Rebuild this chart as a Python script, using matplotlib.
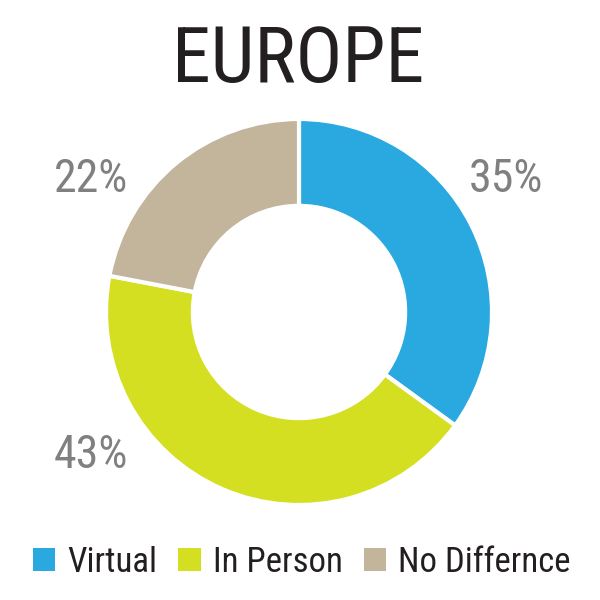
import matplotlib.pyplot as plt
from matplotlib.patches import Patch

categories = ["Virtual", "In Person", "No Differnce"]
values = [35, 43, 22]
colors = ["#29a9e0", "#d5df22", "#c2b59b"]
title = "EUROPE"

font = ["Roboto Condensed", "DejaVu Sans Condensed", "Roboto", "DejaVu Sans"]
plt.rcParams["font.family"] = font
plt.rcParams["font.stretch"] = "condensed"

fig = plt.figure(figsize=(6, 6), dpi=100)

# pie centre ~ (299, 312) px, outer radius ~193 px
cx, cy, r = 299 / 600, 1 - 312 / 600, 193 / 600
lim = 1.6
ax = fig.add_axes([cx - r * lim, cy - r * lim, 2 * r * lim, 2 * r * lim])
wedges, _ = ax.pie(values, colors=colors, startangle=90, counterclock=False,
                   radius=1, wedgeprops=dict(width=0.45, edgecolor="white", linewidth=3))
ax.set_xlim(-lim, lim)
ax.set_ylim(-lim, lim)
ax.set_aspect("equal")
ax.axis("off")

# percentage labels sit at fixed spots around the ring
label_pos = [(1.07, 0.69), (-1.08, -0.74), (-1.08, 0.69)]
for v, (x, y) in zip(values, label_pos):
    ax.text(x, y, f"{v}%", ha="center", va="center", fontsize=33,
            color="#808080")

fig.text(0.497, 0.863, title, ha="center", va="baseline", fontsize=56,
         color="#231f20")

handles = [Patch(facecolor=c, edgecolor="none") for c in colors]
fig.legend(handles, categories, loc="center", bbox_to_anchor=(0.503, 0.063),
           ncol=3, frameon=False, fontsize=25, handlelength=0.65,
           handleheight=0.65, handletextpad=0.35, columnspacing=0.6,
           borderpad=0, borderaxespad=0, labelcolor="#231f20")

fig.savefig("out.png", dpi=100)
